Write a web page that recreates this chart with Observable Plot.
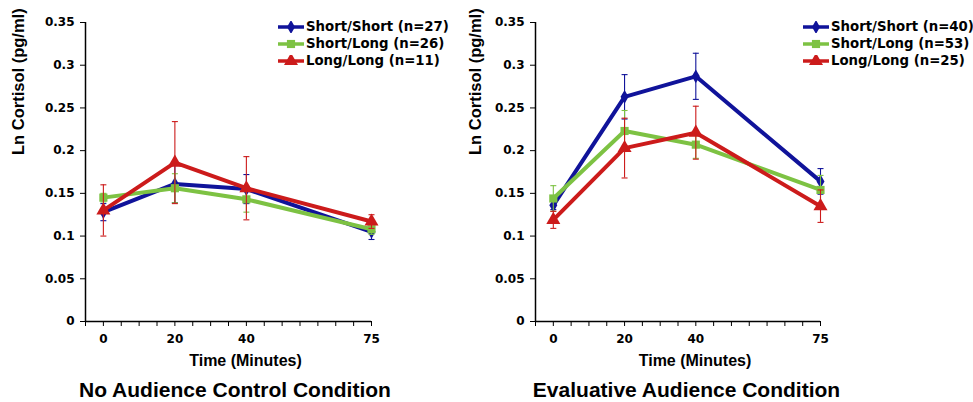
<!DOCTYPE html>
<html>
<head>
<meta charset="utf-8">
<script src="https://cdn.jsdelivr.net/npm/d3@7"></script>
<script src="https://cdn.jsdelivr.net/npm/@observablehq/plot@0.6"></script>
<style>
  html, body { margin: 0; padding: 0; background: #fff; }
  #root { position: relative; width: 973px; height: 402px; overflow: hidden; background: #fff; }
  .panel { position: absolute; top: 0; }
  .title { position: absolute; width: 400px; text-align: center; font-family: "Liberation Sans", Arial, sans-serif; font-weight: bold; font-size: 21px; line-height: 18px; height: 18px; color: #000; white-space: nowrap; }
  .legend { position: absolute; font-family: "DejaVu Sans", Verdana, sans-serif; font-weight: bold; font-size: 13.3px; color: #000; white-space: nowrap; }
  .legend .row { display: flex; align-items: center; height: 17px; }
  .legend svg { display: block; margin-right: 2px; }
</style>
</head>
<body>
<div id="root"></div>
<script>
// ---- data ----
const times = [0, 20, 40, 75];
const seriesNames = ["Short/Short", "Short/Long", "Long/Long"];
const seriesColors = ["#10139a", "#7dc243", "#cc1b1b"];
const seriesSymbols = ["diamond", "square", "triangle"];
const seriesRadius = [4.2, 4.6, 5.2];

// No Audience Control Condition
const noAudNs = [27, 26, 11];
const noAudShortShort = [0.128, 0.161, 0.155, 0.105];
const noAudShortShortErr = [0.010, 0.022, 0.017, 0.009];
const noAudShortLong = [0.145, 0.156, 0.143, 0.108];
const noAudShortLongErr = [0.005, 0.017, 0.015, 0.006];
const noAudLongLong = [0.130, 0.186, 0.156, 0.117];
const noAudLongLongErr = [0.030, 0.048, 0.037, 0.008];

// Evaluative Audience Condition
const evalNs = [40, 53, 25];
const evalShortShort = [0.136, 0.263, 0.287, 0.164];
const evalShortShortErr = [0.005, 0.026, 0.027, 0.015];
const evalShortLong = [0.144, 0.223, 0.207, 0.154];
const evalShortLongErr = [0.015, 0.024, 0.016, 0.017];
const evalLongLong = [0.119, 0.203, 0.221, 0.135];
const evalLongLongErr = [0.010, 0.035, 0.031, 0.019];

// ticks
const yTicks = [0, 0.05, 0.1, 0.15, 0.2, 0.25, 0.3, 0.35];
const yTickLabels = ["0", "0.05", "0.1", "0.15", "0.2", "0.25", "0.3", "0.35"];
const xTicks = [-5, 0, 5, 10, 15, 20, 25, 30, 35, 40, 45, 50, 55, 60, 65, 70, 75];
const xTickLabels = ["", "0", "", "", "", "20", "", "", "", "40", "", "", "", "", "", "", "75"];
const xDomain = [-5, 75];
const yDomain = [0, 0.35];

const yLabel = "Ln Cortisol (pg/ml)";
const xLabel = "Time (Minutes)";
const titles = ["No Audience Control Condition", "Evaluative Audience Condition"];

// ---- helpers ----
function rows(values, errs) {
  return times.map((t, i) => ({time: t, value: values[i], lo: values[i] - errs[i], hi: values[i] + errs[i]}));
}

const capSymbol = {
  draw(ctx, size) {
    const w = Math.sqrt(size / Math.PI);
    ctx.moveTo(-w, 0);
    ctx.lineTo(w, 0);
  }
};

function panel(seriesData, opts) {
  const marks = [
    Plot.ruleY([yDomain[0]], {stroke: "#000", strokeWidth: 1.5}),
    Plot.ruleX([xDomain[0]], {stroke: "#000", strokeWidth: 1.5}),
    Plot.axisY({ticks: yTicks, tickFormat: (d) => yTickLabels[yTicks.indexOf(d)], tickSize: 5, tickPadding: 6, label: null}),
    Plot.axisX({ticks: xTicks, tickFormat: (d) => xTickLabels[xTicks.indexOf(d)], tickSize: 5, tickPadding: 8, label: null}),
    Plot.text([yLabel], {frameAnchor: "left", rotate: -90, dx: -opts.yLabelOffset, dy: -17, fontFamily: "Liberation Sans, Arial, sans-serif", fontWeight: "bold", fontSize: 16.5}),
    Plot.text([xLabel], {frameAnchor: "bottom", dx: 17, dy: 39, lineAnchor: "middle", fontFamily: "Liberation Sans, Arial, sans-serif", fontWeight: "bold", fontSize: 16})
  ];
  seriesData.forEach((d, k) => {
    const c = seriesColors[k];
    marks.push(Plot.line(d, {x: "time", y: "value", stroke: c, strokeWidth: 4, strokeLinejoin: "round"}));
    marks.push(Plot.ruleX(d, {x: "time", y1: "lo", y2: "hi", stroke: c, strokeWidth: 1.1}));
    marks.push(Plot.dot(d, {x: "time", y: "lo", symbol: capSymbol, r: 3, stroke: c, fill: "none", strokeWidth: 1.1}));
    marks.push(Plot.dot(d, {x: "time", y: "hi", symbol: capSymbol, r: 3, stroke: c, fill: "none", strokeWidth: 1.1}));
    marks.push(Plot.dot(d, {x: "time", y: "value", symbol: seriesSymbols[k], r: seriesRadius[k], fill: c, stroke: "none"}));
  });
  return Plot.plot({
    width: opts.width,
    height: 375,
    marginLeft: opts.marginLeft,
    marginRight: opts.marginRight,
    marginTop: 22,
    marginBottom: 54,
    x: {domain: xDomain, axis: null},
    y: {domain: yDomain, axis: null},
    style: {fontFamily: "DejaVu Sans, Verdana, sans-serif", fontSize: "12px", fontWeight: "bold", color: "#000", background: "transparent", overflow: "visible"},
    marks
  });
}

function legend(ns, left, top) {
  const div = document.createElement("div");
  div.className = "legend";
  div.style.left = left + "px";
  div.style.top = top + "px";
  seriesNames.forEach((name, k) => {
    const row = document.createElement("div");
    row.className = "row";
    const c = seriesColors[k];
    const sym = d3.symbol(d3["symbol" + seriesSymbols[k][0].toUpperCase() + seriesSymbols[k].slice(1)], seriesRadius[k] * seriesRadius[k] * Math.PI)();
    row.innerHTML = `<svg width="26" height="12" viewBox="0 0 26 12"><line x1="0" y1="6" x2="26" y2="6" stroke="${c}" stroke-width="3.5"/><path d="${sym}" transform="translate(13,6)" fill="${c}"/></svg><span>${name} (n=${ns[k]})</span>`;
    div.appendChild(row);
  });
  return div;
}

const root = document.getElementById("root");

const left = panel([rows(noAudShortShort, noAudShortShortErr), rows(noAudShortLong, noAudShortLongErr), rows(noAudLongLong, noAudLongLongErr)],
  {width: 440, marginLeft: 85, marginRight: 69, yLabelOffset: 67});
left.classList.add("panel");
left.style.left = "0px";
root.appendChild(left);

const right = panel([rows(evalShortShort, evalShortShortErr), rows(evalShortLong, evalShortLongErr), rows(evalLongLong, evalLongLongErr)],
  {width: 533, marginLeft: 95, marginRight: 153, yLabelOffset: 60});
right.classList.add("panel");
right.style.left = "440px";
root.appendChild(right);

root.appendChild(legend(noAudNs, 278, 18));
root.appendChild(legend(evalNs, 803, 18));

[[titles[0], 35], [titles[1], 486.5]].forEach(([t, x]) => {
  const d = document.createElement("div");
  d.className = "title";
  d.style.left = x + "px";
  d.style.top = "381px";
  d.textContent = t;
  root.appendChild(d);
});
</script>
</body>
</html>
